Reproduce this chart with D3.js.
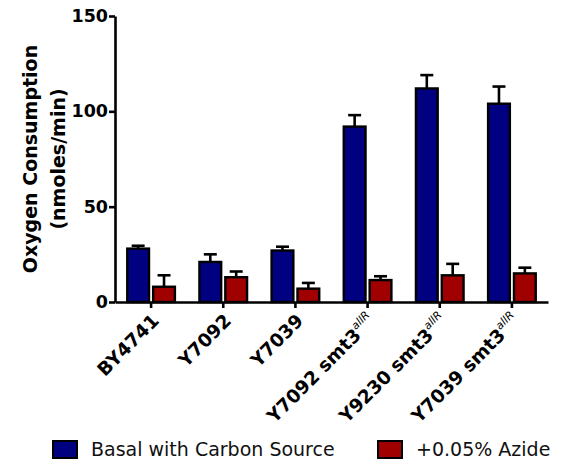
<!DOCTYPE html>
<html>
<head>
<meta charset="utf-8">
<script src="https://cdn.jsdelivr.net/npm/d3@7"></script>
<style>
  body { margin: 0; background: #fff; }
  svg { display: block; font-family: "DejaVu Sans", sans-serif; }
</style>
</head>
<body>
<script>
const w = 566;
const h = 464;
const padding = { top: 16, right: 18, bottom: 162, left: 115 };

// strain names, split so the allele can get its superscript
const strains = ['BY4741', 'Y7092', 'Y7039', 'Y7092 smt3', 'Y9230 smt3', 'Y7039 smt3'];
const strainPrefix = ['BY4741', 'Y7092', 'Y7039', 'Y7092 ', 'Y9230 ', 'Y7039 '];
const strainGene = ['', '', '', 'smt3', 'smt3', 'smt3'];
const strainSup = ['', '', '', 'allR', 'allR', 'allR'];

const seriesNames = ['Basal with Carbon Source', '+0.05% Azide'];
const basal = [28, 21, 27, 92, 112, 104];
const basalErr = [1.5, 4, 2, 6, 7, 9];
const azide = [8, 13, 7, 11.5, 14, 15];
const azideErr = [6, 3, 3, 2, 6, 3];
const yTicks = [0, 50, 100, 150];

const colors = ['#000080', '#a00000'];

const svg = d3.select('body')
  .append('svg')
  .attr('width', w)
  .attr('height', h);

const xScale = d3.scaleBand()
  .domain(strains)
  .range([padding.left, w - padding.right])
  .paddingInner(0.34)
  .paddingOuter(0.17);
const xSub = d3.scaleBand()
  .domain([0, 1])
  .range([0, xScale.bandwidth()])
  .paddingInner(0.16);
const yScale = d3.scaleLinear().domain([0, 150]).range([h - padding.bottom, padding.top]);

const rows = [];
strains.forEach((s, i) => {
  rows.push({ s: s, k: 0, v: basal[i], e: basalErr[i] });
  rows.push({ s: s, k: 1, v: azide[i], e: azideErr[i] });
});

// error bars (upper only) drawn first so bars sit on top
const err = svg.append('g')
  .attr('stroke', '#000')
  .attr('stroke-width', 2.6)
  .attr('fill', 'none');
rows.forEach((d) => {
  const cx = xScale(d.s) + xSub(d.k) + xSub.bandwidth() / 2;
  err.append('line')
    .attr('x1', cx).attr('x2', cx)
    .attr('y1', yScale(d.v)).attr('y2', yScale(d.v + d.e));
  err.append('line')
    .attr('x1', cx - 6.5).attr('x2', cx + 6.5)
    .attr('y1', yScale(d.v + d.e)).attr('y2', yScale(d.v + d.e));
});

svg.append('g')
  .selectAll('rect')
  .data(rows)
  .enter()
  .append('rect')
  .attr('x', (d) => xScale(d.s) + xSub(d.k))
  .attr('y', (d) => yScale(d.v))
  .attr('width', xSub.bandwidth())
  .attr('height', (d) => yScale(0) - yScale(d.v))
  .attr('fill', (d) => colors[d.k])
  .attr('stroke', '#000')
  .attr('stroke-width', 2.4);

// axes
const yAxis = d3.axisLeft(yScale).tickValues(yTicks).tickSize(6).tickSizeOuter(0).tickPadding(1);
const gy = svg.append('g')
  .attr('transform', `translate(${padding.left},0)`)
  .call(yAxis);
gy.selectAll('path, line').attr('stroke', '#000').attr('stroke-width', 2.6);
gy.selectAll('text')
  .attr('font-family', 'DejaVu Sans')
  .attr('font-weight', 'bold')
  .attr('font-size', 17.5)
  .attr('fill', '#000');

const xAxis = d3.axisBottom(xScale).tickSize(6).tickSizeOuter(0).tickFormat('');
const gx = svg.append('g')
  .attr('transform', `translate(0,${yScale(0)})`)
  .call(xAxis);
gx.selectAll('path, line').attr('stroke', '#000').attr('stroke-width', 2.6);

// rotated category labels
strains.forEach((s, i) => {
  const px = xScale(s) + xScale.bandwidth() / 2 + 9;
  const py = yScale(0) + 20;
  const t = svg.append('text')
    .attr('transform', `translate(${px},${py}) rotate(-45)`)
    .attr('text-anchor', 'end')
    .attr('font-weight', 'bold')
    .attr('font-size', 18.5)
    .attr('fill', '#000');
  t.append('tspan').text(strainPrefix[i]);
  if (strainGene[i]) {
    t.append('tspan').text(strainGene[i]);
    t.append('tspan')
      .attr('font-style', 'italic')
      .attr('font-weight', 'normal')
      .attr('font-size', 11)
      .attr('dy', -9)
      .text(strainSup[i]);
  }
});

// y axis title
const yTitle = svg.append('text')
  .attr('transform', `translate(0,${(yScale(0) + yScale(150)) / 2}) rotate(-90)`)
  .attr('text-anchor', 'middle')
  .attr('font-weight', 'bold')
  .attr('font-size', 19)
  .attr('fill', '#000');
yTitle.append('tspan').attr('x', 0).attr('y', 37).text('Oxygen Consumption');
yTitle.append('tspan').attr('x', 0).attr('y', 65).text('(nmoles/min)');

// legend
const legendX = [53, 378];
seriesNames.forEach((name, i) => {
  const g = svg.append('g').attr('transform', `translate(${legendX[i]},441)`);
  g.append('rect')
    .attr('width', 24)
    .attr('height', 17)
    .attr('fill', colors[i])
    .attr('stroke', '#000')
    .attr('stroke-width', 2);
  g.append('text')
    .attr('x', 38)
    .attr('y', 15)
    .attr('font-size', 19)
    .attr('fill', '#111')
    .text(name);
});
</script>
</body>
</html>
